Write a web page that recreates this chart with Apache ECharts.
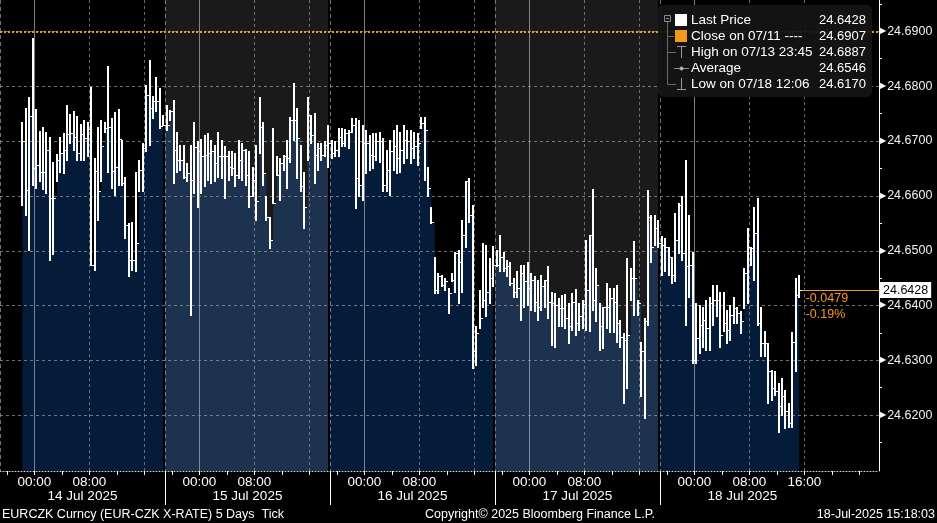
<!DOCTYPE html>
<html><head><meta charset="utf-8">
<script src="https://cdn.jsdelivr.net/npm/echarts@6/dist/echarts.min.js"></script>
<style>html,body{margin:0;padding:0;background:#000;}#c{width:937px;height:523px;}</style>
</head><body><div id="c"></div>
<script>
// Time is in hours relative to 14 Jul 2025 00:00. Bars are 30-minute bars, first at 13 Jul 22:15.
const barStartHour = -1.75;
const barStepHour = 0.5;
const lows = [24.6583,24.6565,24.6501,24.6620,24.6615,24.6626,24.6612,24.6605,24.6483,24.6494,
24.6626,24.6644,24.6641,24.6665,24.6696,24.6683,24.6665,24.6665,24.6665,24.6672,
24.6474,24.6465,24.6556,24.6626,24.6717,24.6644,24.6614,24.6602,24.6620,24.6620,
24.6523,24.6453,24.6465,24.6463,24.6608,24.6608,24.6681,24.6693,24.6741,24.6754,
24.6723,24.6729,24.6720,24.6738,24.6623,24.6644,24.6647,24.6632,24.6626,24.6383,
24.6605,24.6580,24.6605,24.6617,24.6629,24.6623,24.6626,24.6635,24.6632,24.6596,
24.6629,24.6638,24.6617,24.6632,24.6629,24.6620,24.6580,24.6599,24.6556,24.6678,
24.6620,24.6556,24.6504,24.6586,24.6638,24.6593,24.6647,24.6614,24.6662,24.6702,
24.6632,24.6608,24.6541,24.6665,24.6696,24.6624,24.6647,24.6665,24.6672,24.6653,
24.6669,24.6672,24.6672,24.6690,24.6690,24.6687,24.6717,24.6577,24.6599,24.6593,
24.6641,24.6647,24.6650,24.6665,24.6662,24.6608,24.6608,24.6602,24.6647,24.6641,
24.6644,24.6659,24.6669,24.6659,24.6669,24.6656,24.6723,24.6629,24.6599,24.6550,
24.6422,24.6422,24.6435,24.6428,24.6386,24.6444,24.6425,24.6404,24.6425,24.6507,
24.6553,24.6286,24.6292,24.6359,24.6398,24.6380,24.6404,24.6435,24.6471,24.6462,
24.6462,24.6453,24.6438,24.6416,24.6416,24.6374,24.6398,24.6401,24.6392,24.6389,
24.6374,24.6392,24.6398,24.6377,24.6328,24.6325,24.6362,24.6362,24.6359,24.6331,
24.6356,24.6346,24.6356,24.6359,24.6356,24.6353,24.6392,24.6371,24.6319,24.6322,
24.6359,24.6352,24.6352,24.6334,24.6325,24.6222,24.6249,24.6410,24.6383,24.6383,
24.6234,24.6195,24.6365,24.6480,24.6510,24.6507,24.6456,24.6462,24.6456,24.6441,
24.6444,24.6495,24.6483,24.6365,24.6416,24.6295,24.6295,24.6313,24.6325,24.6319,
24.6319,24.6365,24.6380,24.6325,24.6353,24.6331,24.6337,24.6368,24.6368,24.6349,
24.6395,24.6404,24.6474,24.6447,24.6365,24.6307,24.6307,24.6222,24.6228,24.6237,
24.6170,24.6201,24.6176,24.6179,24.6179,24.6280,24.6416];
const highs = [24.6735,24.6760,24.6781,24.6887,24.6758,24.6718,24.6726,24.6717,24.6708,24.6662,
24.6676,24.6708,24.6714,24.6766,24.6749,24.6755,24.6746,24.6731,24.6738,24.6735,
24.6799,24.6669,24.6726,24.6738,24.6735,24.6836,24.6741,24.6752,24.6758,24.6702,
24.6635,24.6550,24.6553,24.6644,24.6665,24.6696,24.6802,24.6848,24.6782,24.6817,
24.6796,24.6748,24.6766,24.6757,24.6775,24.6717,24.6693,24.6693,24.6659,24.6693,
24.6735,24.6700,24.6704,24.6711,24.6714,24.6702,24.6693,24.6717,24.6702,24.6690,
24.6681,24.6681,24.6678,24.6702,24.6696,24.6685,24.6681,24.6653,24.6693,24.6781,
24.6735,24.6599,24.6562,24.6723,24.6672,24.6669,24.6675,24.6702,24.6744,24.6805,
24.6760,24.6693,24.6644,24.6781,24.6747,24.6751,24.6696,24.6696,24.6699,24.6729,
24.6702,24.6699,24.6723,24.6723,24.6721,24.6720,24.6741,24.6741,24.6738,24.6729,
24.6720,24.6711,24.6714,24.6714,24.6717,24.6705,24.6684,24.6702,24.6720,24.6729,
24.6717,24.6729,24.6720,24.6720,24.6717,24.6714,24.6744,24.6744,24.6653,24.6580,
24.6489,24.6459,24.6456,24.6450,24.6431,24.6459,24.6498,24.6501,24.6556,24.6626,
24.6632,24.6583,24.6362,24.6428,24.6514,24.6511,24.6486,24.6508,24.6501,24.6529,
24.6498,24.6483,24.6480,24.6450,24.6462,24.6474,24.6474,24.6480,24.6459,24.6453,
24.6447,24.6456,24.6447,24.6471,24.6425,24.6422,24.6413,24.6419,24.6421,24.6404,
24.6422,24.6430,24.6404,24.6410,24.6520,24.6529,24.6612,24.6468,24.6404,24.6398,
24.6441,24.6431,24.6431,24.6438,24.6374,24.6349,24.6486,24.6468,24.6517,24.6410,
24.6334,24.6377,24.6611,24.6565,24.6565,24.6556,24.6526,24.6523,24.6507,24.6489,
24.6568,24.6586,24.6599,24.6665,24.6565,24.6498,24.6404,24.6401,24.6398,24.6410,
24.6416,24.6438,24.6438,24.6425,24.6425,24.6392,24.6401,24.6416,24.6398,24.6389,
24.6468,24.6541,24.6507,24.6580,24.6596,24.6398,24.6353,24.6331,24.6283,24.6280,
24.6258,24.6267,24.6246,24.6222,24.6352,24.6450,24.6456];
const closes = [24.6699,24.6611,24.6746,24.6650,24.6656,24.6644,24.6644,24.6684,24.6596,24.6596,
24.6665,24.6678,24.6684,24.6712,24.6714,24.6708,24.6678,24.6712,24.6705,24.6722,
24.6474,24.6645,24.6608,24.6690,24.6724,24.6726,24.6646,24.6653,24.6704,24.6623,
24.6547,24.6483,24.6483,24.6514,24.6647,24.6687,24.6784,24.6760,24.6773,24.6773,
24.6727,24.6729,24.6729,24.6754,24.6684,24.6665,24.6665,24.6635,24.6641,24.6629,
24.6689,24.6681,24.6672,24.6675,24.6678,24.6681,24.6659,24.6672,24.6672,24.6672,
24.6653,24.6650,24.6638,24.6665,24.6684,24.6638,24.6599,24.6629,24.6590,24.6726,
24.6641,24.6562,24.6520,24.6586,24.6638,24.6659,24.6672,24.6669,24.6738,24.6738,
24.6705,24.6617,24.6580,24.6747,24.6711,24.6675,24.6687,24.6675,24.6693,24.6696,
24.6678,24.6684,24.6708,24.6696,24.6714,24.6717,24.6729,24.6632,24.6620,24.6696,
24.6696,24.6675,24.6672,24.6699,24.6699,24.6620,24.6647,24.6681,24.6690,24.6669,
24.6684,24.6702,24.6699,24.6687,24.6690,24.6696,24.6732,24.6720,24.6614,24.6553,
24.6428,24.6453,24.6438,24.6444,24.6422,24.6447,24.6495,24.6480,24.6529,24.6626,
24.6565,24.6316,24.6350,24.6377,24.6410,24.6425,24.6450,24.6474,24.6474,24.6489,
24.6468,24.6471,24.6441,24.6425,24.6432,24.6459,24.6444,24.6432,24.6447,24.6407,
24.6398,24.6435,24.6447,24.6407,24.6404,24.6401,24.6395,24.6395,24.6377,24.6363,
24.6407,24.6368,24.6381,24.6403,24.6428,24.6529,24.6410,24.6438,24.6362,24.6398,
24.6398,24.6413,24.6407,24.6368,24.6343,24.6337,24.6346,24.6450,24.6450,24.6404,
24.6316,24.6371,24.6562,24.6507,24.6541,24.6514,24.6510,24.6507,24.6489,24.6456,
24.6520,24.6583,24.6495,24.6471,24.6474,24.6301,24.6340,24.6365,24.6374,24.6359,
24.6404,24.6410,24.6410,24.6346,24.6368,24.6356,24.6383,24.6395,24.6386,24.6371,
24.6459,24.6507,24.6504,24.6532,24.6368,24.6331,24.6331,24.6280,24.6249,24.6243,
24.6216,24.6234,24.6207,24.6185,24.6334,24.6419,24.6428];
const prevClose = 24.6907;          // Close on 07/11
const averageValue = 24.6546;
const yTicks = [24.62, 24.63, 24.64, 24.65, 24.66, 24.67, 24.68, 24.69];
const yMinorTicks = [24.615, 24.625, 24.635, 24.645, 24.655, 24.665, 24.675, 24.685, 24.695];
const timeLabelHours = [0, 8, 24, 32, 48, 56, 72, 80, 96, 104, 112];
const xTickHours = [-4,0,4,8,12,16,20,24,28,32,36,40,44,48,52,56,60,64,68,72,76,80,84,88,92,96,100,104,108,112,116,120];
const midnightHours = [0, 24, 48, 72, 96];
const dashedHours = [8, 16, 32, 40, 56, 64, 80, 88, 104, 112];
const dayBoundaryHours = [-5, 19, 43, 67, 91];
const dayLabelHours = [7, 31, 55, 79, 103];
const dayLabels = ['14 Jul 2025', '15 Jul 2025', '16 Jul 2025', '17 Jul 2025', '18 Jul 2025'];
const shadedDays = [[19, 43], [67, 91]];

const FONT = '"Liberation Sans", Arial, sans-serif';
const ORANGE = '#f39a1e';
const xMin = -5, xMax = 122.86, yMin = 24.6098, yMax = 24.6957;

const barData = closes.map((c, i) => [barStartHour + i * barStepHour, lows[i], highs[i], c]);
const lastIdx = closes.length - 1;
const lastT = barData[lastIdx][0];
const lastClose = closes[lastIdx];
const chg = lastClose - prevClose;
const chgPct = chg / prevClose * 100;
const hiIdx = highs.indexOf(Math.max(...highs));
const loIdx = lows.indexOf(Math.min(...lows));

const chart = echarts.init(document.getElementById('c'));

function vLineItem(params, api) {
  const h = api.value(0), kind = api.value(1);
  const cs = params.coordSys;
  const x = Math.round(api.coord([h, yMin])[0]);
  if (kind === 0) {
    return {type: 'line', shape: {x1: x + 0.5, y1: cs.y, x2: x + 0.5, y2: cs.y + cs.height},
      style: {stroke: 'rgba(160,170,182,0.75)', lineWidth: 1}};
  }
  if (kind === 1) {
    return {type: 'line', shape: {x1: x + 0.5, y1: cs.y, x2: x + 0.5, y2: cs.y + cs.height},
      style: {stroke: 'rgba(150,150,150,0.7)', lineWidth: 1, lineDash: [3, 3]}};
  }
  return {type: 'group', children: [
    {type: 'rect', shape: {x: x - 2, y: cs.y, width: 2, height: cs.height}, style: {fill: '#000'}},
    {type: 'line', shape: {x1: x + 0.5, y1: cs.y, x2: x + 0.5, y2: cs.y + cs.height},
      style: {stroke: 'rgba(150,150,150,0.75)', lineWidth: 1, lineDash: [4, 3]}}
  ]};
}

const vLines = [].concat(
  midnightHours.map(h => [h, 0]),
  dashedHours.map(h => [h, 1]),
  dayBoundaryHours.map(h => [h, 2])
);

const legendRows = [
  {label: 'Last Price', value: lastClose},
  {label: 'Close on 07/11 ----', value: prevClose},
  {label: 'High on 07/13 23:45', value: highs[hiIdx]},
  {label: 'Average', value: averageValue},
  {label: 'Low on 07/18 12:06', value: lows[loIdx]}
];
const rowY = [20.5, 36, 52, 68, 84];
const graphics = [
  {type: 'rect', z: 40, shape: {x: 658, y: 5, width: 214, height: 92, r: 5}, style: {fill: 'rgba(20,20,20,0.94)'}},
  {type: 'rect', z: 60, shape: {x: 664.5, y: 15.5, width: 6, height: 6}, style: {fill: 'none', stroke: '#8a8a8a', lineWidth: 1}},
  {type: 'line', z: 60, shape: {x1: 666, y1: 18.5, x2: 669, y2: 18.5}, style: {stroke: '#8a8a8a', lineWidth: 1}},
  {type: 'line', z: 60, shape: {x1: 667.5, y1: 22, x2: 667.5, y2: 84.5}, style: {stroke: '#6a6a6a', lineWidth: 1}},
  {type: 'line', z: 60, shape: {x1: 667.5, y1: 36.5, x2: 674, y2: 36.5}, style: {stroke: '#6a6a6a', lineWidth: 1}},
  {type: 'line', z: 60, shape: {x1: 667.5, y1: 52.5, x2: 676, y2: 52.5}, style: {stroke: '#6a6a6a', lineWidth: 1}},
  {type: 'line', z: 60, shape: {x1: 667.5, y1: 84.5, x2: 676, y2: 84.5}, style: {stroke: '#6a6a6a', lineWidth: 1}},
  {type: 'rect', z: 60, shape: {x: 675, y: 14, width: 12, height: 12}, style: {fill: '#ffffff'}},
  {type: 'rect', z: 60, shape: {x: 675, y: 30, width: 12, height: 12}, style: {fill: ORANGE}},
  {type: 'line', z: 60, shape: {x1: 677, y1: 46.5, x2: 686, y2: 46.5}, style: {stroke: '#9a9a9a', lineWidth: 1}},
  {type: 'line', z: 60, shape: {x1: 681.5, y1: 46.5, x2: 681.5, y2: 58}, style: {stroke: '#9a9a9a', lineWidth: 1}},
  {type: 'line', z: 60, shape: {x1: 674, y1: 68.5, x2: 689, y2: 68.5}, style: {stroke: '#8a8a8a', lineWidth: 1}},
  {type: 'circle', z: 60, shape: {cx: 681.5, cy: 68.5, r: 2}, style: {fill: '#b0b0b0'}},
  {type: 'line', z: 60, shape: {x1: 681.5, y1: 78, x2: 681.5, y2: 89.5}, style: {stroke: '#9a9a9a', lineWidth: 1}},
  {type: 'line', z: 60, shape: {x1: 677, y1: 89.5, x2: 686, y2: 89.5}, style: {stroke: '#9a9a9a', lineWidth: 1}}
];
legendRows.forEach((r, k) => {
  graphics.push({type: 'text', z: 60, x: 691, y: rowY[k], style: {text: r.label, fill: '#ffffff', font: '13.5px ' + FONT, verticalAlign: 'middle', align: 'left'}});
  graphics.push({type: 'text', z: 60, x: 866, y: rowY[k], style: {text: r.value.toFixed(4), fill: '#ffffff', font: '13px ' + FONT, verticalAlign: 'middle', align: 'right'}});
});
graphics.push({type: 'text', x: 2, y: 514.5, style: {text: 'EURCZK Curncy (EUR-CZK X-RATE) 5 Days  Tick', fill: '#ffffff', font: '12.5px ' + FONT, verticalAlign: 'middle', align: 'left'}});
graphics.push({type: 'text', x: 425, y: 514.5, style: {text: 'Copyright\u00a9 2025 Bloomberg Finance L.P.', fill: '#ffffff', font: '12.5px ' + FONT, verticalAlign: 'middle', align: 'left'}});
graphics.push({type: 'text', x: 935, y: 514.5, style: {text: '18-Jul-2025 15:18:03', fill: '#ffffff', font: '12.5px ' + FONT, verticalAlign: 'middle', align: 'right'}});

const pad2 = n => (n < 10 ? '0' : '') + n;

chart.setOption({
  backgroundColor: '#000',
  animation: false,
  grid: {left: 0, right: 58, top: 0, bottom: 52, containLabel: false},
  xAxis: [
    {type: 'value', min: xMin, max: xMax, position: 'bottom', z: 10,
     axisLine: {show: true, onZero: false, lineStyle: {color: '#cfcfcf', type: [1, 2], width: 1}},
     axisTick: {show: true, customValues: xTickHours, length: 4, lineStyle: {color: '#ffffff'}},
     axisLabel: {customValues: timeLabelHours, color: '#ffffff', fontSize: 13.5, fontFamily: FONT, margin: 4,
       formatter: v => pad2(((v % 24) + 24) % 24) + ':00'},
     splitLine: {show: false}},
    {type: 'value', min: xMin, max: xMax, position: 'bottom', offset: 0, z: 10,
     axisLine: {show: false, onZero: false},
     axisTick: {show: true, customValues: dayBoundaryHours.slice(1), length: 34, lineStyle: {color: '#ffffff', width: 1}},
     axisLabel: {customValues: dayLabelHours, color: '#ffffff', fontSize: 13.5, fontFamily: FONT, margin: 18,
       formatter: v => dayLabels[dayLabelHours.indexOf(v)]},
     splitLine: {show: false}}
  ],
  yAxis: {type: 'value', position: 'right', min: yMin, max: yMax, z: 10,
    axisLine: {show: true, onZero: false, lineStyle: {color: '#ffffff'}},
    axisTick: {show: true, customValues: yMinorTicks, length: 3, lineStyle: {color: '#ffffff'}},
    axisLabel: {customValues: yTicks, color: '#f2f2f2', fontSize: 12.5, fontFamily: FONT, margin: 1,
      formatter: v => '{t|\u25B6}' + v.toFixed(4),
      rich: {t: {fontSize: 8, fontFamily: 'DejaVu Sans', color: '#ffffff', padding: [0, 1, 0, 0]}}},
    splitLine: {show: false}},
  graphic: {elements: graphics},
  series: [
    {type: 'line', name: 'area', data: barData.map(d => [d[0], d[3]]), step: 'end', symbol: 'none', silent: true, z: 1,
     lineStyle: {width: 0, opacity: 0}, areaStyle: {color: '#041b3a', opacity: 1, origin: 'start'}},
    {type: 'custom', name: 'shade', data: shadedDays, encode: {x: [0, 1]}, silent: true, z: 2,
     renderItem: (params, api) => {
       const cs = params.coordSys;
       const x0 = api.coord([api.value(0), yMin])[0], x1 = api.coord([api.value(1), yMin])[0];
       return {type: 'rect', shape: {x: x0, y: cs.y, width: x1 - x0, height: cs.height}, style: {fill: 'rgba(255,255,255,0.10)'}};
     }},
    {type: 'custom', name: 'vgrid', data: vLines, encode: {x: 0}, silent: true, z: 3, renderItem: vLineItem},
    {type: 'custom', name: 'hgrid', data: yTicks.map(v => [v]), encode: {y: 0}, silent: true, z: 3,
     renderItem: (params, api) => {
       const cs = params.coordSys;
       const y = Math.round(api.coord([xMin, api.value(0)])[1]) + 0.5;
       return {type: 'line', shape: {x1: cs.x, y1: y, x2: cs.x + cs.width, y2: y},
         style: {stroke: 'rgba(150,150,150,0.75)', lineWidth: 1, lineDash: [3, 3]}};
     }},
    {type: 'custom', name: 'bars', data: barData, encode: {x: 0, y: [1, 2, 3]}, silent: true, z: 5,
     renderItem: (params, api) => {
       const t = api.value(0);
       const pL = api.coord([t, api.value(1)]), pH = api.coord([t, api.value(2)]), pC = api.coord([t, api.value(3)]);
       const x = Math.round(pL[0]);
       const yc = Math.round(pC[1]) + 0.5;
       return {type: 'group', children: [
         {type: 'line', shape: {x1: x, y1: Math.round(pH[1]), x2: x, y2: Math.round(pL[1]) + 1}, style: {stroke: '#ffffff', lineWidth: 2}},
         {type: 'line', shape: {x1: x, y1: yc, x2: x + 3, y2: yc}, style: {stroke: '#ffffff', lineWidth: 1}}
       ]};
     }},
    {type: 'line', name: 'Last Price', data: barData.map(d => [d[0], d[3]]), symbol: 'none', silent: true, z: 50,
     lineStyle: {opacity: 0, width: 0},
     markPoint: {silent: true, animation: false, symbol: 'rect', symbolSize: [1, 1], itemStyle: {color: 'rgba(0,0,0,0)'},
       data: [{coord: [lastT, lastClose],
         label: {show: true, position: [7, 1], formatter: chg.toFixed(4) + '\n' + chgPct.toFixed(2) + '%',
           color: ORANGE, fontSize: 12.5, lineHeight: 16, fontFamily: FONT, align: 'left', verticalAlign: 'top'}}]},
     markLine: {silent: true, symbol: ['none', 'none'], animation: false,
       data: [
         {yAxis: prevClose, lineStyle: {color: ORANGE, type: [2, 2], width: 2}, label: {show: false}},
         [{coord: [lastT, lastClose], lineStyle: {color: ORANGE, type: 'solid', width: 1},
           label: {show: true, position: 'end', distance: 1, formatter: lastClose.toFixed(4), color: '#000', backgroundColor: '#ffffff',
             padding: [2, 3, 1, 3], fontSize: 12.5, fontFamily: FONT}},
          {coord: [xMax, lastClose]}]
       ]}}
  ]
});
</script></body></html>
